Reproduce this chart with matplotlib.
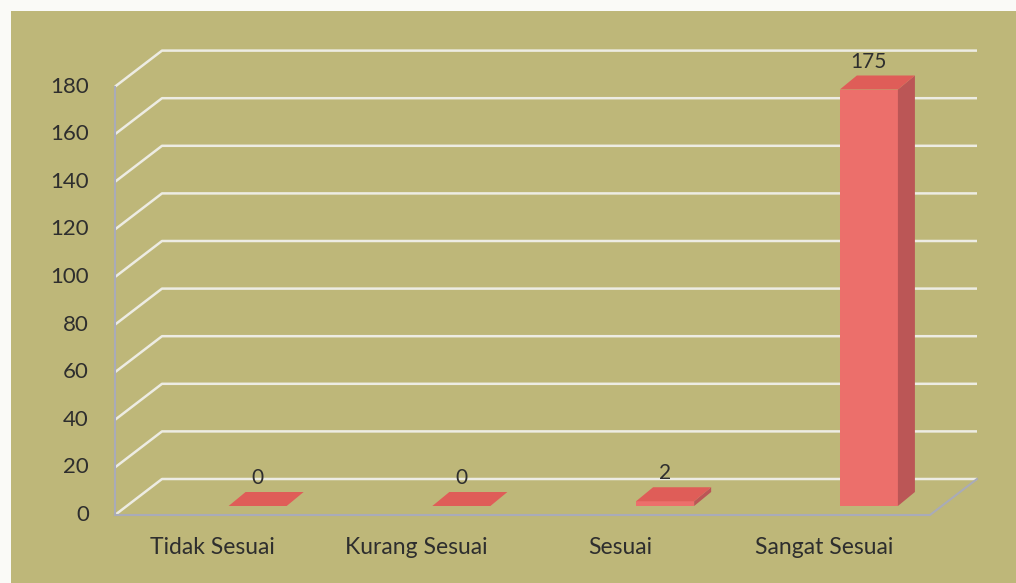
import matplotlib
matplotlib.use("Agg")
import matplotlib.pyplot as plt
from matplotlib.patches import Polygon, Rectangle

plt.rcParams['font.family'] = ['Lato', 'DejaVu Sans']

# ---- data ----
categories = ["Tidak Sesuai", "Kurang Sesuai", "Sesuai", "Sangat Sesuai"]
values = [0, 0, 2, 175]
y_ticks = [0, 20, 40, 60, 80, 100, 120, 140, 160, 180]

# ---- layout constants (pixels per unit) ----
W, H = 1016, 583
PXC = 203.75          # px per category on front plane
PXV = 2.38            # px per value unit
X0_PX, Y0_PX = 115, 515   # front origin in image pixels (y from top)

# wall depth offset (front -> back)
WDX = 47 / PXC
WDY = 36 / PXV
# bar placement within depth
BAR_FRONT_DY = 9 / PXV
BAR_DX = 17 / PXC
BAR_DY = 14 / PXV
BAR_OFF = 0.70
BAR_W = 0.285

BG = "#BEB779"
GRID = "#EDECE3"
AXC = "#A9ABB8"
FRONT = "#EC6F6B"
SIDE = "#BB5656"
TOP = "#DF5D58"
TXT = "#2E2E2E"

fig = plt.figure(figsize=(W / 100, H / 100), dpi=100)
fig.patch.set_facecolor("#FAFAF7")

ax = fig.add_axes([0, 0, 1, 1])
ax.set_xlim(-X0_PX / PXC, (W - X0_PX) / PXC)
ax.set_ylim(-(H - Y0_PX) / PXV, Y0_PX / PXV)
ax.axis("off")
ax.add_patch(Rectangle((11 / W, 0), 1, (H - 11) / H, transform=fig.transFigure,
                       facecolor=BG, edgecolor="none", zorder=0))

n = len(categories)

# gridlines (left wall diagonal + back wall horizontal)
for v in y_ticks:
    xs = [0, WDX, n + WDX]
    ys = [v, v + WDY, v + WDY]
    ax.plot(xs, ys, color=GRID, lw=1.8, solid_capstyle="butt", zorder=2)

# left axis line
ax.plot([0, 0], [0, y_ticks[-1]], color=AXC, lw=1.5, zorder=3)
# floor edges
ax.plot([0, n, n + WDX], [0, 0, WDY], color=AXC, lw=1.5, zorder=3)

# tick labels
for v in y_ticks:
    ax.text(-26 / PXC, v, str(v), ha="right", va="center", fontsize=16, color=TXT, zorder=5)

# category labels
for i, c in enumerate(categories):
    ax.text(i + 0.48, -33 / PXV, c, ha="center", va="center", fontsize=16.5, color=TXT, zorder=5)

# bars
for i, v in enumerate(values):
    xl = i + BAR_OFF - BAR_W / 2
    xr = i + BAR_OFF + BAR_W / 2
    yb = BAR_FRONT_DY
    yt = BAR_FRONT_DY + v
    front = Polygon([(xl, yb), (xr, yb), (xr, yt), (xl, yt)], closed=True,
                    facecolor=FRONT, edgecolor="none", zorder=4)
    side = Polygon([(xr, yb), (xr + BAR_DX, yb + BAR_DY), (xr + BAR_DX, yt + BAR_DY), (xr, yt)],
                   closed=True, facecolor=SIDE, edgecolor="none", zorder=4)
    top = Polygon([(xl, yt), (xr, yt), (xr + BAR_DX, yt + BAR_DY), (xl + BAR_DX, yt + BAR_DY)],
                  closed=True, facecolor=TOP, edgecolor="none", zorder=4)
    ax.add_patch(front)
    ax.add_patch(side)
    ax.add_patch(top)
    ax.text(i + BAR_OFF, yt + 28 / PXV, str(v), ha="center", va="center",
            fontsize=15, color=TXT, zorder=5)

fig.savefig("out.png", dpi=100, facecolor=fig.get_facecolor())
